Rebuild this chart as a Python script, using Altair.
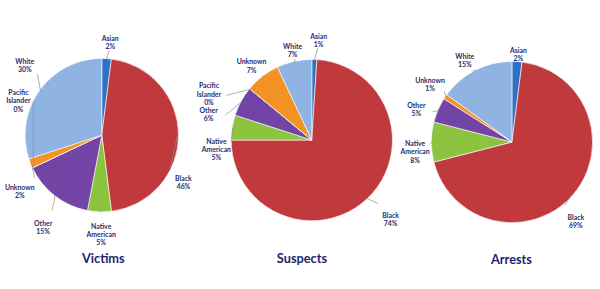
import altair as alt
import pandas as pd

# ---- data ----
categories = ["Asian", "Black", "Native American", "Other",
              "Pacific Islander", "Unknown", "White"]
victims = [2, 46, 5, 15, 0, 2, 30]
suspects = [1, 74, 5, 6, 0, 7, 7]
arrests = [2, 69, 8, 5, None, 1, 15]
panel_titles = ["Victims", "Suspects", "Arrests"]

colors = ["#2E72C6", "#C0393C", "#8CC43F", "#7244A6",
          "#9BB8E0", "#F39325", "#8FB3E2"]
display = {"Native American": "Native\nAmerican",
           "Pacific Islander": "Pacific\nIslander"}

LABEL_COLOR = "#1F2D6E"
TITLE_COLOR = "#1E1F70"
FONT = "Lato"

# label layout tweaks (angle offset in degrees, extra distance in px)
layout_victims = {"Asian": (1.4, 0), "Black": (28, -4), "Native American": (-1.4, -5),
                  "Other": (-4.3, 10), "Unknown": (-11, 1), "Pacific Islander": (52, -3),
                  "White": (7.5, 10)}
layout_suspects = {"Asian": (2, 3), "Black": (-3, 9), "Native American": (-10, -5),
                   "Other": (-13, 7), "Pacific Islander": (-12, 16), "Unknown": (0, -2),
                   "White": (1, -5)}
layout_arrests = {"Asian": (0.4, -9), "White": (-2, -3), "Unknown": (2.6, 2),
                  "Other": (-2.6, 2), "Native American": (-1.2, -3.5), "Black": (8.6, -1)}


def panel(title, values, cx, cy, r, lay, tx, ty):
    rows = []
    for i, (c, v) in enumerate(zip(categories, values)):
        if v is None:
            continue
        da, dd = lay.get(c, (0, 0))
        nlines = 3 if c in display else 2
        rows.append({"cat": c, "value": v, "idx": i,
                     "label": f"{display.get(c, c)}\n{v}%",
                     "nudge": da, "dist": r + 20 + dd, "hh": 4 * nlines + 2})
    df = pd.DataFrame(rows)
    base = alt.Chart(df)

    arcs = base.mark_arc(radius=r, stroke="#FFFFFF", strokeWidth=0.6).encode(
        theta=alt.Theta("value:Q", stack=True),
        order=alt.Order("idx:Q"),
        color=alt.Color("cat:N", scale=alt.Scale(domain=categories, range=colors),
                        legend=None),
        x=alt.value(cx),
        y=alt.value(cy),
    )

    geo = base.transform_window(
        cum="sum(value)", sort=[alt.SortField("idx")], frame=[None, 0]
    ).transform_joinaggregate(total="sum(value)").transform_calculate(
        mid="(datum.cum - datum.value/2) / datum.total * 2 * PI",
    ).transform_calculate(
        la="datum.mid + datum.nudge * PI / 180",
    ).transform_calculate(
        ext="15 * abs(sin(datum.la)) + datum.hh * abs(cos(datum.la))",
    ).transform_calculate(
        x1=f"{cx} + {r - 1} * sin(datum.mid)",
        y1=f"{cy} - {r - 1} * cos(datum.mid)",
        x2=f"{cx} + max({r}, datum.dist - datum.ext) * sin(datum.la)",
        y2=f"{cy} - max({r}, datum.dist - datum.ext) * cos(datum.la)",
        lx=f"{cx} + datum.dist * sin(datum.la)",
        ly=f"{cy} - datum.dist * cos(datum.la)",
    )

    leaders = geo.mark_rule(color="#8C8C8C", strokeWidth=0.7).encode(
        x=alt.X("x1:Q", scale=None),
        y=alt.Y("y1:Q", scale=None),
        x2="x2:Q",
        y2="y2:Q",
    )

    labels = geo.mark_text(
        font=FONT, fontSize=7, fontWeight="bold", color=LABEL_COLOR,
        lineBreak="\n", align="center", baseline="middle", lineHeight=8.5,
    ).encode(
        x=alt.X("lx:Q", scale=None),
        y=alt.Y("ly:Q", scale=None),
        text="label:N",
    )

    ttl = alt.Chart(pd.DataFrame({"t": [title]})).mark_text(
        font=FONT, fontSize=13, fontWeight="bold", color=TITLE_COLOR,
        align="center", baseline="middle",
    ).encode(text="t:N", x=alt.value(tx), y=alt.value(ty))

    return alt.layer(arcs, leaders, labels, ttl).properties(width=200, height=289)


p1 = panel(panel_titles[0], victims, 103.5, 135, 78, layout_victims, 105, 261)
p2 = panel(panel_titles[1], suspects, 110, 140, 82, layout_suspects, 100, 261)
p3 = panel(panel_titles[2], arrests, 110.5, 142, 82, layout_arrests, 110, 262)

chart = alt.hconcat(p1, p2, p3, spacing=0).properties(
    padding=0, background="white"
).configure_view(stroke=None)

chart.save("out.html", embed_options={"renderer": "svg", "actions": False})
